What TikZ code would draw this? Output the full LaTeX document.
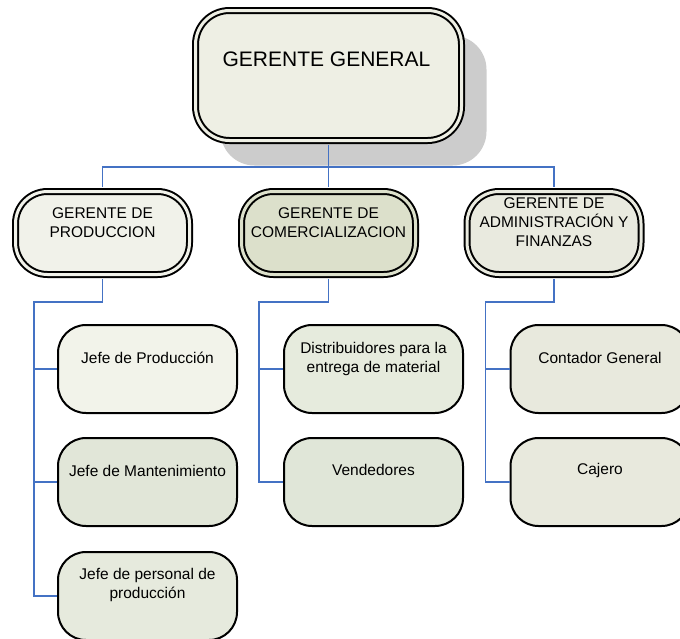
\documentclass[tikz,border=0pt]{standalone}
\usepackage{fontspec}
\setmainfont{Liberation Sans}
\usetikzlibrary{shadows}

\definecolor{linea}{RGB}{68,114,196}
\definecolor{fgen}{RGB}{238,239,228}
\definecolor{fprod}{RGB}{241,242,234}
\definecolor{fcom}{RGB}{220,224,203}
\definecolor{fadm}{RGB}{233,234,223}
\definecolor{fj1}{RGB}{242,243,234}
\definecolor{fj2}{RGB}{225,230,216}
\definecolor{fj3}{RGB}{230,234,221}
\definecolor{fd1}{RGB}{230,235,221}
\definecolor{fd2}{RGB}{224,230,216}
\definecolor{fc}{RGB}{232,233,221}

\begin{document}
\begin{tikzpicture}[x=1pt,y=-1pt]
\tikzstyle{txt}=[align=center,inner sep=0pt,font=\fontsize{15.5}{19}\selectfont]
\tikzstyle{general}=[draw=black,rectangle,rounded corners=34pt,line width=2pt,double distance=3pt,
  minimum width=266pt,minimum height=130pt,inner sep=0pt]
\tikzstyle{gerente}=[draw=black,rectangle,rounded corners=32pt,line width=2pt,double distance=3pt,
  minimum width=174pt,minimum height=83pt,inner sep=0pt]
\tikzstyle{jefe}=[draw=black,rectangle,rounded corners=28pt,line width=2pt,
  minimum width=179pt,minimum height=88pt,inner sep=0pt]
\tikzstyle{conex}=[draw=linea,line width=1.8pt]
\useasboundingbox (0,0) rectangle (680,638);

% gerencia general
\node[general,fill=fgen,double=fgen,
  drop shadow={shadow xshift=25pt,shadow yshift=-25pt,fill=black!20,opacity=1},
  label={[inner sep=0pt,font=\fontsize{21}{25}\selectfont,yshift=16pt,xshift=-2pt]center:GERENTE GENERAL}]
  (gg) at (328.5,75.5) {};

% gerencias
\node[gerente,fill=fprod,double=fprod,label={[txt,yshift=10.5pt]center:GERENTE DE\\PRODUCCION}]
  (gp) at (102.5,233) {};
\node[gerente,fill=fcom,double=fcom,label={[txt,yshift=10.5pt]center:GERENTE DE\\COMERCIALIZACION}]
  (gc) at (328.5,233) {};
\node[gerente,fill=fadm,double=fadm,label={[txt,yshift=10.5pt]center:GERENTE DE\\ADMINISTRACIÓN Y\\FINANZAS}]
  (ga) at (554,233) {};

% jefes de produccion
\node[jefe,fill=fj1,label={[txt,yshift=11.5pt]center:Jefe de Producción}] (jp) at (147.5,369) {};
\node[jefe,fill=fj2,label={[txt,yshift=11.5pt]center:Jefe de Mantenimiento}] (jm) at (147.5,482) {};
\node[jefe,fill=fj3,label={[txt,yshift=11pt]center:Jefe de personal de\\producción}] (jpers) at (147.5,596) {};

% comercializacion
\node[jefe,fill=fd1,label={[txt,yshift=10.5pt]center:Distribuidores para la\\entrega de material}] (dist) at (373.5,369) {};
\node[jefe,fill=fd2,label={[txt,yshift=12pt]center:Vendedores}] (vend) at (373.5,482) {};

% administracion
\node[jefe,fill=fc,label={[txt,yshift=11.5pt]center:Contador General}] (cont) at (600,369) {};
\node[jefe,fill=fc,label={[txt,yshift=12pt]center:Cajero}] (caj) at (600,482) {};

% conexiones
\draw[conex,shorten <=3.5pt,shorten >=3.5pt] (gg.south) -- +(0,25.5) -| (gp.north);
\draw[conex,shorten <=3.5pt,shorten >=3.5pt] (gg.south) -- +(0,25.5) -| (ga.north);
\draw[conex,shorten <=3.5pt,shorten >=3.5pt] (gg.south) -- (gc.north);

\draw[conex,shorten <=3.5pt] (gp.south) -- +(0,26.5) -| ([xshift=-23pt]jpers.west) -- (jpers.west);
\draw[conex] ([xshift=-23pt]jp.west) -- (jp.west);
\draw[conex] ([xshift=-23pt]jm.west) -- (jm.west);

\draw[conex,shorten <=3.5pt] (gc.south) -- +(0,26.5) -| ([xshift=-24pt]vend.west) -- (vend.west);
\draw[conex] ([xshift=-24pt]dist.west) -- (dist.west);

\draw[conex,shorten <=3.5pt] (ga.south) -- +(0,26.5) -| ([xshift=-24pt]caj.west) -- (caj.west);
\draw[conex] ([xshift=-24pt]cont.west) -- (cont.west);
\end{tikzpicture}
\end{document}
